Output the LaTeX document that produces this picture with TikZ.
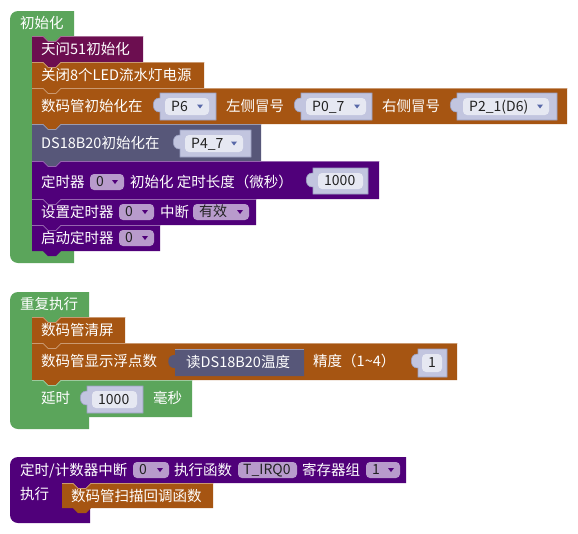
\documentclass[tikz,border=0pt]{standalone}
\usepackage{fontspec}
\setmainfont{Noto Sans CJK SC}
\definecolor{cgreen}{HTML}{5BA55B}
\definecolor{cmaroon}{HTML}{6C0E50}
\definecolor{cbrown}{HTML}{A65512}
\definecolor{cslate}{HTML}{575779}
\definecolor{cpurple}{HTML}{50007A}
\definecolor{cddp}{HTML}{B89BCC}
\definecolor{cslot}{HTML}{C2C5DF}
\definecolor{cslotedge}{HTML}{9A9EC0}
\definecolor{cfield}{HTML}{E6E8F2}
\definecolor{cfarrow}{HTML}{5868A8}
\definecolor{ctext}{HTML}{222222}
\newcommand\stmtblk[5]{%
  \fill[#5] (#1,#2) -- ({#1+11},#2) -- ({#1+16},{#2+5}) -- ({#1+24},{#2+5}) -- ({#1+29},#2) -- ({#1+#3},#2) -- ({#1+#3},{#2+#4}) -- ({#1+29},{#2+#4}) -- ({#1+24},{#2+#4+5}) -- ({#1+16},{#2+#4+5}) -- ({#1+11},{#2+#4}) -- (#1,{#2+#4}) -- cycle;
  \draw[#5!60!white, line width=0.7pt] (#1,{#2+0.4}) -- ({#1+11},{#2+0.4}) -- ({#1+16},{#2+5.4}) -- ({#1+24},{#2+5.4}) -- ({#1+29},{#2+0.4}) -- ({#1+#3},{#2+0.4});
}
\newcommand\slotbox[4]{%
  \filldraw[fill=cslot, draw=cslotedge, line width=0.6pt] (#1,#2) -- (#3,#2) -- (#3,#4) -- (#1,#4) -- (#1,{#2+19}) .. controls ({#1-9},{#2+20}) and ({#1-9},{#2+4}) .. (#1,{#2+5}) -- cycle;
}
\newcommand\fieldbox[6]{%
  \fill[cfield, rounded corners=4pt] (#1,#2) rectangle (#3,#4);
  \node[flbl] (#6) at ({#1+6},{(#2+#4)/2}) {#5};
}
\newcommand\ddarr[3]{\fill[#3] ({#1-3},{#2-2}) -- ({#1+3},{#2-2}) -- ({#1},{#2+2}) -- cycle;}
\newcommand\fieldarr[6]{%
  \fieldbox{#1}{#2}{#3}{#4}{#5}{#6}
  \ddarr{#3-9}{(#2+#4)/2}{cfarrow}
}
\newcommand\ddbox[6]{%
  \fill[cddp, rounded corners=4pt] (#1,#2) rectangle (#3,#4);
  \node[flbl] (#6) at ({#1+6},{(#2+#4)/2}) {#5};
  \ddarr{#3-9}{(#2+#4)/2}{cpurple}
}
\newcommand\txtbox[6]{%
  \fill[cddp, rounded corners=4pt] (#1,#2) rectangle (#3,#4);
  \node[flbl] (#6) at ({#1+5},{(#2+#4)/2}) {#5};
}
\begin{document}
\begin{tikzpicture}[x=1pt,y=-1pt,
  lbl/.style={anchor=west,inner sep=0pt,text=white,font=\fontsize{14.5}{16}\selectfont,text height=11pt,text depth=1pt},
  flbl/.style={anchor=west,inner sep=0pt,text=ctext,font=\fontsize{14}{16}\selectfont,text height=10.5pt,text depth=1pt}]
\useasboundingbox (0,0) rectangle (578,533);
\fill[white] (0,0) rectangle (578,533);

% ---------- Block A: 初始化 ----------
\fill[cgreen] (10,19) arc (180:270:8) -- (74,11) -- (74,36) -- (61,36) -- (56,41) -- (48,41) -- (43,36) -- (32,36) -- (32,245) arc (180:90:6) -- (74,251) -- (74,263) -- (18,263) arc (90:180:8) -- cycle;
\node[lbl] (a0) at (20,23) {初始化};

\stmtblk{32}{36}{111}{26}{cmaroon}
\node[lbl] (a1) at (41,49) {天问51初始化};

\stmtblk{32}{62}{172}{26}{cbrown}
\node[lbl] (a2) at (41,75) {关闭8个LED流水灯电源};

\stmtblk{32}{88}{535}{36}{cbrown}
\node[lbl] (a3) at (41,106) {数码管初始化在};
\slotbox{160}{93}{216}{120}
\fieldarr{165}{98}{209}{115}{P6}{f1}
\node[lbl] (a4) at (226,106) {左侧冒号};
\slotbox{301}{93}{372}{120}
\fieldarr{306}{98}{366}{115}{P0\_7}{f2}
\node[lbl] (a5) at (382,106) {右侧冒号};
\slotbox{457}{93}{557}{120}
\fieldarr{463}{98}{549}{115}{P2\_1(D6)}{f3}

\stmtblk{32}{124}{229}{37}{cslate}
\node[lbl] (a6) at (41,143) {DS18B20初始化在};
\slotbox{180}{130}{251}{157}
\fieldarr{185}{135}{243}{152}{P4\_7}{f4}

\stmtblk{32}{161}{347}{38}{cpurple}
\node[lbl] (a7) at (41,182) {定时器};
\ddbox{90}{174}{124}{190}{0}{d1}
\node[lbl] (a8) at (130,182) {初始化 定时长度（微秒）};
\slotbox{313}{168}{368}{194}
\fieldbox{318}{173}{363}{189}{1000}{f5}

\stmtblk{32}{199}{224}{26}{cpurple}
\node[lbl] (a9) at (41,212) {设置定时器};
\ddbox{119}{204}{154}{220}{0}{d2}
\node[lbl] (a10) at (160,212) {中断};
\ddbox{193}{204}{249}{220}{有效}{d3}

\stmtblk{32}{225}{128}{26}{cpurple}
\node[lbl] (a11) at (41,238) {启动定时器};
\ddbox{119}{230}{154}{246}{0}{d4}

% ---------- Block B: 重复执行 ----------
\fill[cgreen] (10,300) arc (180:270:8) -- (89,292) -- (89,317) -- (61,317) -- (56,322) -- (48,322) -- (43,317) -- (32,317) -- (32,411) arc (180:90:6) -- (89,417) -- (89,429) -- (18,429) arc (90:180:8) -- cycle;
\node[lbl] (b0) at (20,304) {重复执行};

\stmtblk{32}{317}{93}{26}{cbrown}
\node[lbl] (b1) at (41,330) {数码管清屏};

\stmtblk{32}{343}{425}{37}{cbrown}
\node[lbl] (b2) at (41,361) {数码管显示浮点数};
\fill[cslate] (175,349) -- (304,349) -- (304,376) -- (175,376) -- (175,368) .. controls (166,369) and (166,354) .. (175,355) -- cycle;
\draw[cslate!60!white, line width=0.6pt] (175,349.3) -- (304,349.3);
\node[lbl] (b3) at (186,362) {读DS18B20温度};
\node[lbl] (b4) at (313,361) {精度（1\textasciitilde4）};
\slotbox{418}{349}{447}{377}
\fieldbox{422}{354}{442}{372}{1}{f6}

\stmtblk{32}{380}{160}{37}{cgreen}
\node[lbl] (b5) at (41,398) {延时};
\slotbox{87}{386}{143}{413}
\fieldbox{92}{391}{137}{408}{1000}{f7}
\node[lbl] (b6) at (153,398) {毫秒};

% ---------- Block C: 定时/计数器中断 ----------
\fill[cpurple] (10,465) arc (180:270:8) -- (406,457) -- (406,483) -- (91,483) -- (86,488) -- (78,488) -- (73,483) -- (62,483) -- (62,502) arc (180:90:6) -- (90,508) -- (90,523) -- (18,523) arc (90:180:8) -- cycle;
\node[lbl] (c0) at (20,470) {定时/计数器中断};
\ddbox{133}{462}{169}{478}{0}{d5}
\node[lbl] (c1) at (174,470) {执行函数};
\txtbox{238}{462}{297}{478}{T\_IRQ0}{d6}
\node[lbl] (c2) at (302,470) {寄存器组};
\ddbox{366}{462}{400}{478}{1}{d7}
\node[lbl] (c3) at (20,494) {执行};

\stmtblk{62}{483}{151}{25}{cbrown}
\node[lbl] (c4) at (71,496) {数码管扫描回调函数};
\end{tikzpicture}
\end{document}
